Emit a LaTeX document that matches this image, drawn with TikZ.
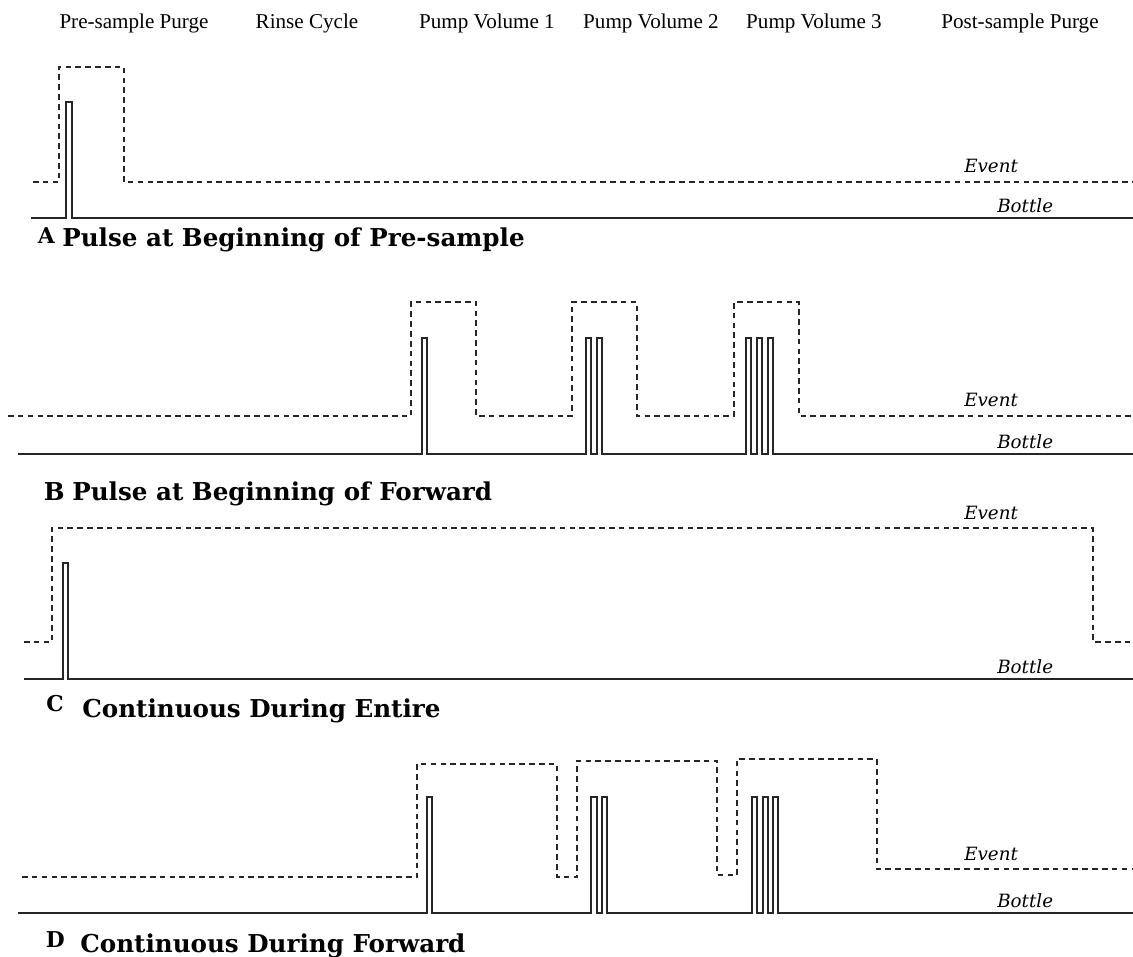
\documentclass[tikz,border=0pt]{standalone}
\usepackage{fontspec}
\setmainfont{Liberation Serif}
\newfontfamily\schoolfont{DejaVu Serif}
\usepackage{tikz}
\usetikzlibrary{calc, positioning}
\tikzset{
    textnode/.style = {draw=none, fill=none, rectangle, inner sep=0em, anchor=base,
      font=\fontsize{15}{15}\selectfont},
    titlenode/.style = {draw=none, fill=none, rectangle, inner sep=0em, anchor=base west,
      font=\schoolfont\bfseries\fontsize{17.5}{17.5}\selectfont},
    letternode/.style = {draw=none, fill=none, rectangle, inner sep=0em, anchor=base east,
      font=\schoolfont\bfseries\fontsize{15.5}{15.5}\selectfont},
    signalnode/.style = {draw=none, fill=none, rectangle, inner sep=0em, anchor=base west,
      font=\schoolfont\itshape\fontsize{13}{13}\selectfont},
    eventline/.style = {black!85, line width=1.3pt, dash pattern=on 4pt off 3pt},
    bottleline/.style = {black!85, line width=1pt}
}

\begin{document}
\begin{tikzpicture}[x=0.025cm, y=-0.025cm]
\useasboundingbox (0,0) rectangle (1133,956);

\node [textnode, name=presample] at (134,28) {Pre-sample Purge};
\node [textnode, name=rinse] at (307,28) {Rinse Cycle};
\node [textnode, name=volume1] at (487,28) {Pump Volume 1};
\node [textnode, name=volume2] at (651,28) {Pump Volume 2};
\node [textnode, name=volume3] at (814,28) {Pump Volume 3};
\node [textnode, name=postsample] at (1020,28) {Post-sample Purge};

% A
\draw [eventline] (33,182) -- (59,182) -- (59,67) -- (124,67) -- (124,182) -- (1133,182);
\draw [bottleline] (31,218) -- (66,218) -- (66,102) -- (72,102) -- (72,218) -- (1133,218);
\node [signalnode, name=eventA] at (964,172) {Event};
\node [signalnode, name=bottleA] at (997,212) {Bottle};
\node [letternode, name=letterA] at (55,243) {A};
\node [titlenode, name=titleA] at (62,246) {Pulse at Beginning of Pre-sample};

% B
\draw [eventline] (8,416) -- (411,416) -- (411,302) -- (476,302) -- (476,416)
    -- (572,416) -- (572,302) -- (637,302) -- (637,416)
    -- (734,416) -- (734,302) -- (799,302) -- (799,416) -- (1133,416);
\draw [bottleline] (18,454) -- (422,454) -- (422,338) -- (427,338) -- (427,454)
    -- (586,454) -- (586,338) -- (591,338) -- (591,454)
    -- (597,454) -- (597,338) -- (602,338) -- (602,454)
    -- (746,454) -- (746,338) -- (751,338) -- (751,454)
    -- (757,454) -- (757,338) -- (762,338) -- (762,454)
    -- (768,454) -- (768,338) -- (773,338) -- (773,454) -- (1133,454);
\node [signalnode, name=eventB] at (964,406) {Event};
\node [signalnode, name=bottleB] at (997,448) {Bottle};
\node [titlenode, name=letterB, anchor=base east] at (65,500) {B};
\node [titlenode, name=titleB] at (72,500) {Pulse at Beginning of Forward};

% C
\draw [eventline] (24,642) -- (52,642) -- (52,528) -- (1093,528) -- (1093,642) -- (1133,642);
\draw [bottleline] (24,679) -- (63,679) -- (63,563) -- (68,563) -- (68,679) -- (1133,679);
\node [signalnode, name=eventC] at (964,519) {Event};
\node [signalnode, name=bottleC] at (997,673) {Bottle};
\node [letternode, name=letterC] at (64,711) {C};
\node [titlenode, name=titleC] at (82,717) {Continuous During Entire};

% D
\draw [eventline] (22,877) -- (417,877) -- (417,764) -- (557,764) -- (557,877)
    -- (577,877) -- (577,761) -- (717,761) -- (717,875)
    -- (737,875) -- (737,759) -- (877,759) -- (877,869) -- (1133,869);
\draw [bottleline] (18,913) -- (427,913) -- (427,797) -- (432,797) -- (432,913)
    -- (591,913) -- (591,797) -- (597,797) -- (597,913)
    -- (602,913) -- (602,797) -- (607,797) -- (607,913)
    -- (752,913) -- (752,797) -- (757,797) -- (757,913)
    -- (763,913) -- (763,797) -- (768,797) -- (768,913)
    -- (773,913) -- (773,797) -- (778,797) -- (778,913) -- (1133,913);
\node [signalnode, name=eventD] at (964,860) {Event};
\node [signalnode, name=bottleD] at (997,907) {Bottle};
\node [letternode, name=letterD] at (65,947) {D};
\node [titlenode, name=titleD] at (80,952) {Continuous During Forward};
\end{tikzpicture}
\end{document}
